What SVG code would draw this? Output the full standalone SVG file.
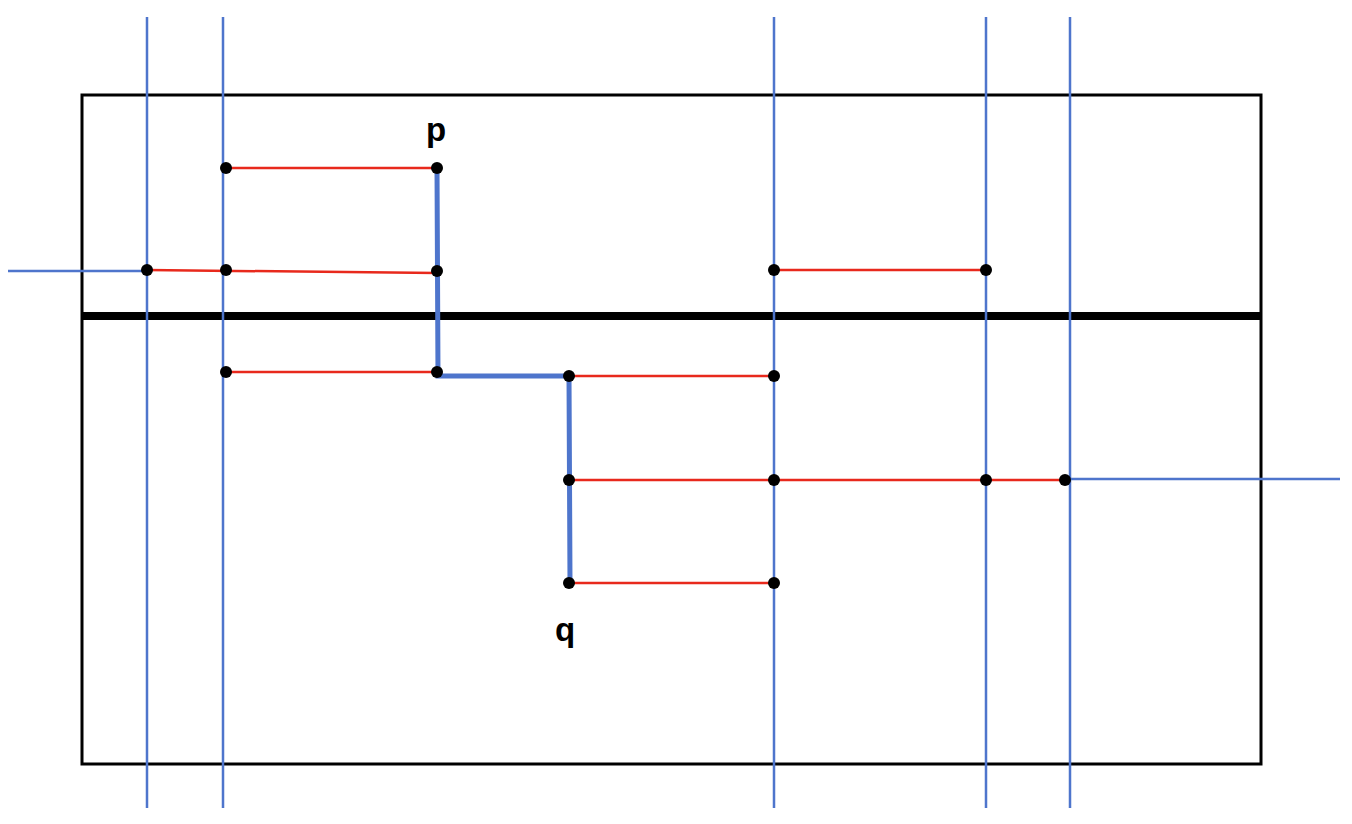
<svg xmlns="http://www.w3.org/2000/svg" width="1352" height="824" viewBox="0 0 1352 824">
<style>
.blue{stroke:#4E75CC;stroke-width:2.5;fill:none}
.red{stroke:#E8291C;stroke-width:2.5;fill:none}
.dot{fill:#000}
.lbl{font-family:"Liberation Sans",Arial,sans-serif;font-size:33px;font-weight:bold;fill:#000;text-anchor:middle}
</style>
<rect width="1352" height="824" fill="#fff"/>
<g id="frame">
<rect x="82" y="95" width="1179" height="669" fill="none" stroke="#000" stroke-width="3"/>
<line x1="82" y1="316" x2="1261" y2="316" stroke="#000" stroke-width="8"/>
</g>
<g id="connectors">
<line class="blue" x1="147" y1="17" x2="147" y2="808"/>
<line class="blue" x1="223" y1="17" x2="223" y2="808"/>
<line class="blue" x1="774" y1="17" x2="774" y2="808"/>
<line class="blue" x1="986" y1="17" x2="986" y2="808"/>
<line class="blue" x1="1070" y1="17" x2="1070" y2="808"/>
<line class="blue" x1="8" y1="271" x2="147" y2="271"/>
<line class="blue" x1="1065" y1="479" x2="1340" y2="479"/>
<line class="red" x1="226" y1="168" x2="437" y2="168"/>
<line class="red" x1="147" y1="270" x2="437" y2="273"/>
<line class="red" x1="774" y1="270" x2="986" y2="270"/>
<line class="red" x1="226" y1="372" x2="437" y2="372"/>
<line class="red" x1="569" y1="376" x2="774" y2="376"/>
<line class="red" x1="569" y1="480" x2="1065" y2="480"/>
<line class="red" x1="569" y1="583" x2="774" y2="583"/>
<polyline points="437,168 438,376 569,376 570,583" fill="none" stroke="#4E75CC" stroke-width="5"/>
</g>
<g id="points">
<circle class="dot" cx="226" cy="168" r="6"/>
<circle class="dot" cx="437" cy="168" r="6"/>
<circle class="dot" cx="147" cy="270" r="6"/>
<circle class="dot" cx="226" cy="270" r="6"/>
<circle class="dot" cx="437" cy="271" r="6"/>
<circle class="dot" cx="774" cy="270" r="6"/>
<circle class="dot" cx="986" cy="270" r="6"/>
<circle class="dot" cx="226" cy="372" r="6"/>
<circle class="dot" cx="437" cy="372" r="6"/>
<circle class="dot" cx="569" cy="376" r="6"/>
<circle class="dot" cx="774" cy="376" r="6"/>
<circle class="dot" cx="569" cy="480" r="6"/>
<circle class="dot" cx="774" cy="480" r="6"/>
<circle class="dot" cx="986" cy="480" r="6"/>
<circle class="dot" cx="1065" cy="480" r="6"/>
<circle class="dot" cx="569" cy="583" r="6"/>
<circle class="dot" cx="774" cy="583" r="6"/>
</g>
<g id="labels">
<text class="lbl" x="436" y="141">p</text>
<text class="lbl" x="565" y="641">q</text>
</g>
</svg>
